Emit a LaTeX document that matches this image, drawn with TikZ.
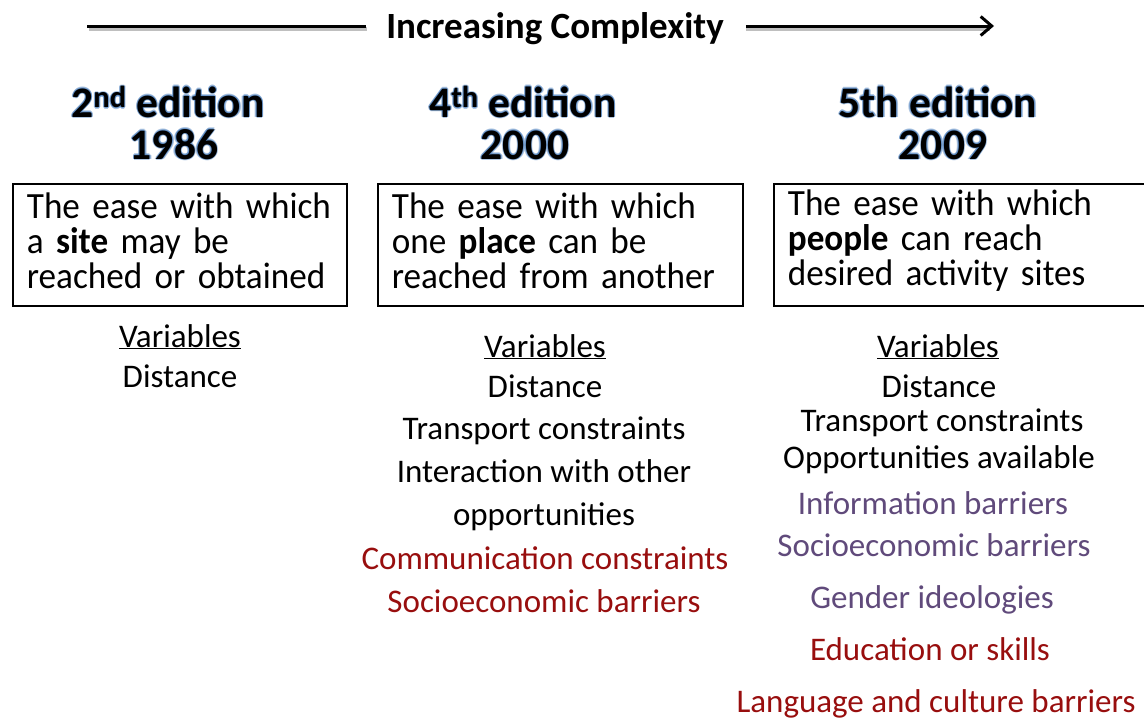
\documentclass[tikz,border=0pt]{standalone}
\usepackage{fontspec}
\setmainfont{Carlito}
\newfontfamily\boxfont{Carlito}[FakeStretch=0.95]
\usetikzlibrary{arrows.meta,calc}
\definecolor{darkred}{RGB}{152,14,14}
\definecolor{plum}{RGB}{96,74,123}
\definecolor{glowblue}{RGB}{79,129,189}

\begin{document}
\begin{tikzpicture}[x=1pt, y=-1pt,
    defbox/.style={draw, line width=1.8pt, anchor=north west, inner xsep=14pt, inner ysep=0pt,
        minimum height=122pt, align=left, font=\boxfont\fontsize{37}{35}\selectfont},
    item/.style={anchor=base, inner sep=0pt, font=\fontsize{33}{35}\selectfont},
    heading/.style={anchor=base, inner sep=0pt, font=\fontsize{43.5}{46}\selectfont\bfseries},
    trendline/.style={line width=3pt},
    shadowline/.style={line width=4pt, black, opacity=0.25},
    >={Straight Barb[length=11pt, width=19pt]}
]
    \useasboundingbox (0,0) rectangle (1144,720);

    % Complexity arrow
    \coordinate (arrL) at (87,26);
    \coordinate (arrR) at (994,26);
    \node[heading, font=\fontsize{37}{40}\selectfont\bfseries] (trend) at (555,38) {Increasing Complexity};
    \draw[shadowline] ([shift={(2,3)}]arrL) -- ([shift={(-19,3)}]arrL -| trend.west);
    \draw[shadowline] ([shift={(22,3)}]arrL -| trend.east) -- ([shift={(-4,3)}]arrR);
    \draw[trendline] (arrL) -- ([xshift=-20pt]arrL -| trend.west);
    \draw[trendline, ->] ([xshift=22pt]arrL -| trend.east) -- (arrR);

    % Edition headings (blue glow, then black text)
    \foreach \nm/\x/\y/\txt in {ed2/168/117/{2\textsuperscript{nd} edition}, yr2/174/159/1986,
                                ed4/523/117/{4\textsuperscript{th} edition}, yr4/525/159/2000,
                                ed5/938/117/{5th edition}, yr5/943/159/2009} {
        \foreach \ang in {0,45,...,315}
            \node[heading, text=glowblue, opacity=0.45] (\nm-g\ang) at ($(\x,\y)+(\ang:1.3)$) {\txt};
        \node[heading] (\nm) at (\x,\y) {\txt};
    }

    % Definition boxes
    \node[defbox, text width=306pt] (def2) at (12,183)
        {\mbox{The ease with which}\\a \textbf{site} may be\\\mbox{reached or obtained}\vspace{9pt}};
    \node[defbox, text width=337pt] (def4) at (377,183)
        {The ease with which\\one \textbf{place} can be\\reached from another\vspace{9pt}};
    \node[defbox, text width=346pt] (def5) at (773,183)
        {The ease with which\\\textbf{people} can reach\\desired activity sites\vspace{9pt}};

    % Variables, 2nd edition
    \node[item] (var2) at (180,347) {\underline{Variables}};
    \node[item] (dist2) at (180,387) {Distance};

    % Variables, 4th edition
    \node[item] (var4) at (545,357) {\underline{Variables}};
    \node[item] (dist4) at (545,397) {Distance};
    \node[item] (trans4) at (544,439) {Transport constraints};
    \node[item] (inter4) at (544,482) {Interaction with other};
    \node[item] (opp4) at (544,525) {opportunities};
    \node[item, text=darkred] (comm4) at (545,569) {Communication constraints};
    \node[item, text=darkred] (socio4) at (544,612) {Socioeconomic barriers};

    % Variables, 5th edition
    \node[item] (var5) at (938,357) {\underline{Variables}};
    \node[item] (dist5) at (939,397) {Distance};
    \node[item] (trans5) at (942,431) {Transport constraints};
    \node[item] (opp5) at (939,468) {Opportunities available};
    \node[item, text=plum] (info5) at (933,514) {Information barriers};
    \node[item, text=plum] (socio5) at (934,556) {Socioeconomic barriers};
    \node[item, text=plum] (gender5) at (932,608) {Gender ideologies};
    \node[item, text=darkred] (edu5) at (930,660) {Education or skills};
    \node[item, text=darkred] (lang5) at (936,712) {Language and culture barriers};
\end{tikzpicture}
\end{document}
